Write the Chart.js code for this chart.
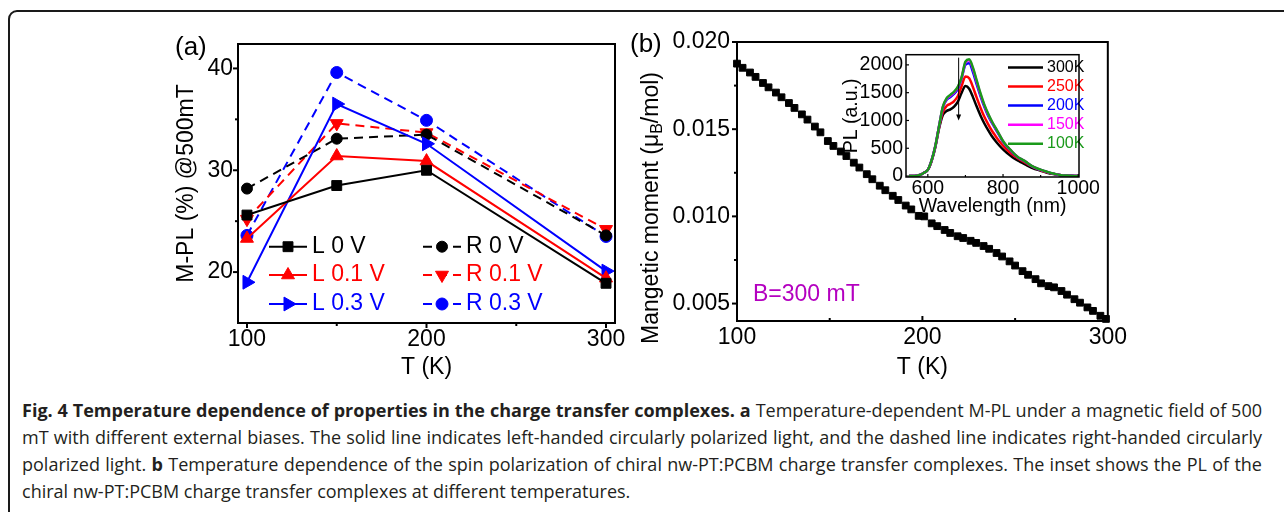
<!DOCTYPE html>
<html><head><meta charset="utf-8">
<script src="https://cdn.jsdelivr.net/npm/chart.js@4.4.1/dist/chart.umd.min.js"></script>
<style>
html,body{margin:0;padding:0;background:#fff;width:1284px;height:512px;overflow:hidden;position:relative;}
#frame{position:absolute;left:8px;top:10px;width:1320px;height:540px;border:2px solid #1a1a1a;border-radius:9px;box-sizing:border-box;}
.box{position:absolute;}
.lbl{position:absolute;font-family:"Liberation Sans",Arial,sans-serif;line-height:1;white-space:nowrap;}
#caption{position:absolute;left:22px;top:397px;font-family:"Open Sans","DejaVu Sans Condensed",sans-serif;font-size:18px;line-height:27px;color:#231f20;white-space:nowrap;}
#caption b{font-weight:700;}
#caption div{white-space:nowrap;}
</style></head>
<body>
<div id="frame"></div>
<div class="box" style="left:140px;top:24px;width:490px;height:366px;"><canvas id="cA" width="490" height="366"></canvas></div>
<div class="box" style="left:630px;top:20px;width:500px;height:370px;"><canvas id="cB" width="500" height="370"></canvas></div>
<div class="box" style="left:840px;top:40px;width:260px;height:180px;"><canvas id="cC" width="260" height="180"></canvas></div>
<div class="lbl" style="left:175px;top:33px;font-size:26px;">(a)</div>
<div class="lbl" style="left:630px;top:30px;font-size:26px;">(b)</div>
<div class="lbl" style="left:753px;top:282px;font-size:23px;color:#b400c0;">B=300 mT</div>
<div id="caption"><div><b>Fig. 4 Temperature dependence of properties in the charge transfer complexes. a</b> Temperature-dependent M-PL under a magnetic field of 500</div><div>mT with different external biases. The solid line indicates left-handed circularly polarized light, and the dashed line indicates right-handed circularly</div><div>polarized light. <b>b</b> Temperature dependence of the spin polarization of chiral nw-PT:PCBM charge transfer complexes. The inset shows the PL of the</div><div>chiral nw-PT:PCBM charge transfer complexes at different temperatures.</div></div>
<script>
// ---------- Panel (a) data ----------
const tempsA = [100, 150, 200, 300];
const L0V  = [25.6, 28.5, 30.0, 18.9];
const L01V = [23.3, 31.4, 30.9, 19.4];
const L03V = [19.0, 36.5, 32.6, 20.1];
const R0V  = [28.2, 33.1, 33.5, 23.6];
const R01V = [25.2, 34.6, 33.7, 24.2];
const R03V = [23.6, 39.6, 34.9, 23.5];
const seriesNamesA = ['L 0 V', 'L 0.1 V', 'L 0.3 V', 'R 0 V', 'R 0.1 V', 'R 0.3 V'];
const xTicksA = [100, 200, 300];
const yTicksA = [20, 30, 40];
const minorXA = [150, 250];
const minorYA = [25, 35];

// ---------- Panel (b) data ----------
const tempsB = [100,103,107,110,114,117,121,124,128,131,135,138,142,145,149,152,156,159,163,166,170,173,177,180,184,187,191,194,198,201,205,208,212,215,219,222,226,229,233,236,240,243,247,250,254,257,261,264,268,271,275,278,282,285,289,292,296,299];
const momentB = [0.01876,0.01852,0.01825,0.01800,0.01765,0.01740,0.01710,0.01683,0.01650,0.01622,0.01585,0.01555,0.01515,0.01482,0.01432,0.01404,0.01372,0.01346,0.01308,0.01280,0.01242,0.01213,0.01176,0.01150,0.01118,0.01094,0.01062,0.01040,0.01003,0.01000,0.00960,0.00944,0.00922,0.00905,0.00886,0.00876,0.00860,0.00848,0.00830,0.00814,0.00790,0.00770,0.00742,0.00718,0.00686,0.00665,0.00640,0.00616,0.00600,0.00593,0.00572,0.00551,0.00525,0.00505,0.00478,0.00458,0.00430,0.00412];
const xTicksB = [100, 200, 300];
const yTicksB = [0.005, 0.010, 0.015, 0.020];
const minorXB = [150, 250];
const minorYB = [0.0075, 0.0125, 0.0175];

// ---------- Inset data ----------
const wavelengths = [550,560,570,580,590,600,610,620,630,640,650,660,670,680,690,700,710,720,730,740,750,760,770,780,790,800,810,820,830,840,850,860,870,880,890,900,910,920,930,940,950,960,970,980,990,1000];
const pl300K = [0,0,5,25,60,110,270,520,860,1100,1170,1200,1250,1340,1500,1620,1570,1420,1250,1090,950,830,720,630,550,480,420,365,315,275,240,205,170,140,115,95,75,55,40,28,18,10,6,4,2,1];
const pl250K = [0,0,5,22,60,110,275,530,880,1150,1260,1300,1350,1440,1620,1790,1760,1600,1410,1230,1070,940,820,720,625,545,475,415,360,315,275,235,195,160,130,105,82,62,45,32,20,12,7,4,2,1];
const pl200K = [0,0,5,20,60,110,280,540,900,1230,1370,1420,1480,1570,1760,2000,2030,1870,1650,1440,1250,1090,960,845,730,615,530,460,390,335,295,255,205,165,135,110,88,68,48,33,20,12,7,5,3,2];
const pl150K = [0,0,5,20,60,110,280,540,900,1240,1390,1445,1505,1595,1775,2040,2085,1930,1700,1470,1275,1115,980,860,745,625,538,468,398,338,298,258,208,168,138,112,89,69,49,34,20,12,7,5,3,2];
const pl100K = [0,0,5,20,60,110,280,540,900,1250,1400,1460,1520,1610,1780,2060,2100,1950,1720,1490,1290,1130,990,870,750,630,540,470,400,340,300,260,210,170,140,115,90,70,50,35,20,12,8,5,3,2];
const insetNames = ['300K', '250K', '200K', '150K', '100K'];
const xTicksC = [600, 800, 1000];
const yTicksC = [0, 500, 1000, 1500, 2000];
const minorXC = [700, 900];
const arrowAt = [682, 2130, 1000]; // wavelength, from PL, to PL

const FONT = '"Liberation Sans", Arial, sans-serif';
Chart.defaults.font.family = FONT;
Chart.defaults.color = '#000';
Chart.defaults.animation = false;

const pts = (xs, ys) => xs.map((x, i) => ({x: x, y: ys[i]}));
const fixTicks = arr => (s => { s.ticks = arr.map(v => ({value: v})); });

// frame + ticks plugin
const deco = {
  id: 'deco',
  afterDraw(chart, args, o) {
    const {ctx, chartArea: a, scales} = chart;
    ctx.save();
    ctx.strokeStyle = '#000';
    ctx.lineWidth = o.frameWidth;
    ctx.strokeRect(a.left, a.top, a.right - a.left, a.bottom - a.top);
    ctx.lineWidth = o.tickWidth;
    const xt = (v, len, dir) => { const x = scales.x.getPixelForValue(v); ctx.beginPath(); ctx.moveTo(x, a.bottom); ctx.lineTo(x, a.bottom + len * dir); ctx.stroke(); };
    const yt = (v, len, dir) => { const y = scales.y.getPixelForValue(v); ctx.beginPath(); ctx.moveTo(a.left, y); ctx.lineTo(a.left - len * dir, y); ctx.stroke(); };
    scales.x.ticks.forEach(t => xt(t.value, o.major, o.xDir));
    (o.minorX || []).forEach(v => xt(v, o.minor, o.xDir));
    scales.y.ticks.forEach(t => yt(t.value, o.major, o.yDir));
    (o.minorY || []).forEach(v => yt(v, o.minor, o.yDir));
    ctx.restore();
  }
};

// legend inside panel (a)
const legendA = {
  id: 'legendA',
  afterDatasetsDraw(chart, args, o) {
    const {ctx, chartArea: a} = chart;
    chart.data.datasets.forEach((ds, i) => {
      const p = o.positions[i];
      const x0 = a.left + p[0], y = a.top + p[1];
      ctx.save();
      ctx.strokeStyle = ds.borderColor;
      ctx.fillStyle = ds.borderColor;
      ctx.lineWidth = ds.borderWidth;
      ctx.setLineDash(ds.borderDash || []);
      ctx.beginPath(); ctx.moveTo(x0, y); ctx.lineTo(x0 + o.lineLen, y); ctx.stroke();
      ctx.setLineDash([]);
      ctx.lineWidth = 1;
      Chart.helpers.drawPoint(ctx, {pointStyle: ds.pointStyle, rotation: ds.pointRotation || 0, radius: ds.pointRadius, borderWidth: 1}, x0 + o.lineLen / 2, y);
      ctx.font = o.font;
      ctx.textBaseline = 'middle';
      ctx.textAlign = 'left';
      ctx.fillText(ds.label, x0 + o.lineLen + o.gap, y);
      ctx.restore();
    });
  }
};

// rotated title with subscript for panel (b)
const richTitle = {
  id: 'richTitle',
  afterDraw(chart, args, o) {
    const ctx = chart.ctx;
    ctx.save();
    ctx.translate(o.x, o.y);
    ctx.rotate(-Math.PI / 2);
    ctx.fillStyle = '#000';
    ctx.textBaseline = 'middle';
    ctx.textAlign = 'left';
    const big = '23px ' + FONT, small = '16px ' + FONT;
    const parts = [[o.pre, big, 0], [o.sub, small, 6], [o.post, big, 0]];
    let total = 0;
    parts.forEach(p => { ctx.font = p[1]; total += ctx.measureText(p[0]).width; });
    let x = -total / 2;
    parts.forEach(p => { ctx.font = p[1]; ctx.fillText(p[0], x, p[2]); x += ctx.measureText(p[0]).width; });
    ctx.restore();
  }
};

// legend + arrow for inset
const insetExtras = {
  id: 'insetExtras',
  afterDatasetsDraw(chart, args, o) {
    const {ctx, chartArea: a, scales} = chart;
    ctx.save();
    chart.data.datasets.forEach((ds, i) => {
      const y = a.top + o.rowTop + i * o.rowGap;
      const x0 = a.left + o.lineX;
      ctx.strokeStyle = ds.borderColor;
      ctx.lineWidth = 2.5;
      ctx.beginPath(); ctx.moveTo(x0, y); ctx.lineTo(x0 + o.lineLen, y); ctx.stroke();
      ctx.fillStyle = ds.borderColor;
      ctx.font = o.font;
      ctx.textBaseline = 'middle';
      ctx.fillText(ds.label, x0 + o.lineLen + 4, y);
    });
    const ax = scales.x.getPixelForValue(o.arrow[0]);
    const y1 = scales.y.getPixelForValue(o.arrow[1]);
    const y2 = scales.y.getPixelForValue(o.arrow[2]);
    ctx.strokeStyle = '#000'; ctx.fillStyle = '#000'; ctx.lineWidth = 1;
    ctx.beginPath(); ctx.moveTo(ax, y1); ctx.lineTo(ax, y2 - 3); ctx.stroke();
    ctx.beginPath(); ctx.moveTo(ax - 2.5, y2 - 6); ctx.lineTo(ax + 2.5, y2 - 6); ctx.lineTo(ax, y2); ctx.closePath(); ctx.fill();
    ctx.restore();
  }
};

// ---------- Chart (a) ----------
const colorsA = ['#000000', '#ff0000', '#0000ff', '#000000', '#ff0000', '#0000ff'];
const valsA = [L0V, L01V, L03V, R0V, R01V, R03V];
const stylesA = [['rect', 0, 7], ['triangle', 0, 7.5], ['triangle', 90, 8], ['circle', 0, 5.5], ['triangle', 180, 7.5], ['circle', 0, 6]];
new Chart(document.getElementById('cA'), {
  type: 'line',
  data: {
    datasets: valsA.map((v, i) => ({
      label: seriesNamesA[i],
      data: pts(tempsA, v),
      borderColor: colorsA[i],
      backgroundColor: colorsA[i],
      pointBackgroundColor: colorsA[i],
      pointBorderColor: colorsA[i],
      borderWidth: 2,
      borderDash: i >= 3 ? [9, 6] : [],
      pointStyle: stylesA[i][0],
      pointRotation: stylesA[i][1],
      pointRadius: stylesA[i][2],
      pointBorderWidth: 1,
      tension: 0,
      clip: false
    }))
  },
  options: {
    responsive: false,
    events: [],
    layout: {padding: {left: 0, top: 20, right: 15, bottom: 0}},
    plugins: {
      legend: {display: false}, tooltip: {enabled: false},
      deco: {frameWidth: 2, tickWidth: 2, major: 5, minor: 3, xDir: 1, yDir: 1, minorX: minorXA, minorY: minorYA},
      legendA: {positions: [[31, 202.7], [31, 231], [31, 260], [185, 202.7], [185, 231], [185, 260]], lineLen: 38, gap: 5, font: '23px ' + FONT}
    },
    scales: {
      x: {
        type: 'linear', min: 95, max: 305,
        grid: {display: false, drawTicks: false}, border: {display: false},
        afterBuildTicks: fixTicks(xTicksA),
        ticks: {padding: 3, font: {size: 23}, maxRotation: 0, callback: v => String(v)},
        title: {display: true, text: 'T (K)', font: {size: 23}, padding: {top: 0, bottom: 9}},
        afterFit(s) { s.height = 67; }
      },
      y: {
        type: 'linear', min: 15, max: 42.4,
        grid: {display: false, drawTicks: false}, border: {display: false},
        afterBuildTicks: fixTicks(yTicksA),
        ticks: {padding: 5, font: {size: 23}, callback: v => String(v)},
        title: {display: true, text: 'M-PL (%) @500mT', font: {size: 23}, padding: {top: 33, bottom: 0}},
        afterFit(s) { s.width = 98; }
      }
    }
  },
  plugins: [deco, legendA]
});

// ---------- Chart (b) ----------
new Chart(document.getElementById('cB'), {
  type: 'line',
  data: {
    datasets: [{
      label: 'M',
      data: pts(tempsB, momentB),
      showLine: false,
      pointStyle: 'rect',
      pointRadius: 4.8,
      pointBackgroundColor: '#000',
      pointBorderColor: '#000',
      pointBorderWidth: 1,
      clip: false
    }]
  },
  options: {
    responsive: false,
    events: [],
    layout: {padding: {left: 0, top: 22, right: 17, bottom: 0}},
    plugins: {
      legend: {display: false}, tooltip: {enabled: false},
      deco: {frameWidth: 2, tickWidth: 2, major: 5, minor: 3, xDir: -1, yDir: 1, minorX: minorXB, minorY: minorYB},
      richTitle: {x: 21.7, y: 188, pre: 'Mangetic moment (\u03bc', sub: 'B', post: '/mol)'}
    },
    scales: {
      x: {
        type: 'linear', min: 100, max: 300,
        grid: {display: false, drawTicks: false}, border: {display: false},
        afterBuildTicks: fixTicks(xTicksB),
        ticks: {padding: 3, font: {size: 23}, maxRotation: 0, callback: v => String(v)},
        title: {display: true, text: 'T (K)', font: {size: 23}, padding: {top: 0, bottom: 9}},
        afterFit(s) { s.height = 69; }
      },
      y: {
        type: 'linear', min: 0.004, max: 0.020,
        grid: {display: false, drawTicks: false}, border: {display: false},
        afterBuildTicks: fixTicks(yTicksB),
        ticks: {padding: 7, font: {size: 23}, callback: v => v.toFixed(3)},
        afterFit(s) { s.width = 107; }
      }
    }
  },
  plugins: [deco, richTitle]
});

// ---------- Inset ----------
const insetColors = ['#000000', '#ff0000', '#0000ff', '#ff00ff', '#1a9a1a'];
const insetVals = [pl300K, pl250K, pl200K, pl150K, pl100K];
new Chart(document.getElementById('cC'), {
  type: 'line',
  data: {
    datasets: insetVals.map((v, i) => ({
      label: insetNames[i],
      data: pts(wavelengths, v),
      borderColor: insetColors[i],
      borderWidth: 2.5,
      pointRadius: 0,
      cubicInterpolationMode: 'monotone',
      order: 4 - i
    }))
  },
  options: {
    responsive: false,
    events: [],
    layout: {padding: {left: 0, top: 5, right: 13, bottom: 0}},
    plugins: {
      legend: {display: false}, tooltip: {enabled: false},
      deco: {frameWidth: 1.5, tickWidth: 1.2, major: 3, minor: 2, xDir: -1, yDir: -1, minorX: minorXC, minorY: []},
      insetExtras: {rowTop: 12.7, rowGap: 19.1, lineX: 102, lineLen: 35, font: '16px ' + FONT, arrow: arrowAt}
    },
    scales: {
      x: {
        type: 'linear', min: 542, max: 1002,
        grid: {display: false, drawTicks: false}, border: {display: false},
        afterBuildTicks: fixTicks(xTicksC),
        ticks: {padding: 0, font: {size: 19.5}, maxRotation: 0, callback: v => String(v)},
        title: {display: true, text: 'Wavelength (nm)', font: {size: 19.5}, padding: {top: 0, bottom: 2}},
        afterFit(s) { s.height = 43; }
      },
      y: {
        type: 'linear', min: -17, max: 2183,
        grid: {display: false, drawTicks: false}, border: {display: false},
        afterBuildTicks: fixTicks(yTicksC),
        ticks: {padding: 3, font: {size: 19.5}, callback: v => String(v)},
        title: {display: true, text: 'PL (a.u.)', font: {size: 19.5}, padding: {top: 0, bottom: 0}},
        afterFit(s) { s.width = 66; }
      }
    }
  },
  plugins: [deco, insetExtras]
});

// ---------- caption fitting: keep the reference line breaks and widths ----------
(function () {
  const cap = document.getElementById('caption');
  const lines = Array.from(cap.children);
  lines.forEach(l => { l.style.display = 'inline-block'; });
  const widths = lines.map(l => l.getBoundingClientRect().width);
  const widest = Math.max(widths[0], widths[1], widths[2]);
  const s = Math.min(612 / widths[3], 1236 / widest);
  cap.style.transformOrigin = '0 0';
  cap.style.transform = 'scaleX(' + s + ')';
  const target = 1240 / s;
  lines.forEach((l, i) => {
    if (i < 3) {
      const n = (l.textContent.match(/ /g) || []).length;
      l.style.wordSpacing = ((target - widths[i]) / n) + 'px';
    }
    l.style.display = 'block';
  });
})();
</script>
</body></html>
